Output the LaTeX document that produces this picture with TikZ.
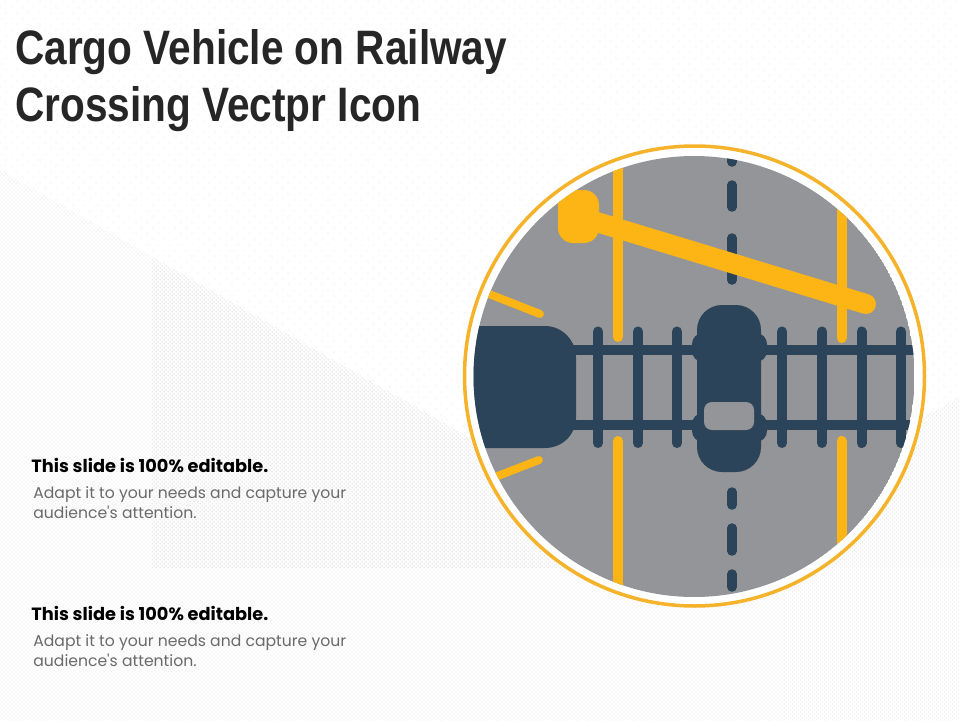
\documentclass[tikz,border=0pt]{standalone}
\usepackage{fontspec}
\setmainfont{Liberation Sans}
\newfontfamily\bodyfont{Poppins}
\usetikzlibrary{patterns.meta}
\definecolor{roadgray}{HTML}{939598}
\definecolor{navy}{HTML}{2B4459}
\definecolor{signyellow}{HTML}{FDB515}
\definecolor{ringyellow}{HTML}{F5B32B}
\definecolor{titlegray}{HTML}{262626}
\definecolor{textgray}{HTML}{6A6A6A}
\tikzset{
  px/.style={line width=#1*0.02cm},
  title/.style={anchor=north west, inner sep=0pt, align=left, xscale=0.84, font=\fontsize{27.5}{32.3}\selectfont\bfseries, text=titlegray},
  head/.style={anchor=west, inner sep=0pt, font=\bodyfont\fontsize{10.1}{11}\selectfont\bfseries, text=black},
  body/.style={anchor=north west, inner sep=0pt, align=left, font=\bodyfont\fontsize{8.9}{11.4}\selectfont, text=textgray},
  rail/.style={draw=navy, px=10},
  tie/.style={draw=navy, px=10, line cap=round},
  lane/.style={draw=signyellow, px=10, line cap=round},
  streak/.style={draw=signyellow, px=8, line cap=round},
  roaddash/.style={draw=navy, px=9.5, line cap=round}
}
\begin{document}
\begin{tikzpicture}[x=0.02cm,y=-0.02cm]
\useasboundingbox (0,0) rectangle (960,720);

\fill[white] (0,0) rectangle (960,720);
\fill[pattern={Dots[distance=0.16cm, radius=0.03cm, angle=45]}, pattern color=black!2]
  (0,0) rectangle (960,720);
\fill[white] (0,170) -- (674,554) -- (960,397) -- (960,720) -- (0,720) -- cycle;
\fill[pattern={Dots[distance=0.0566cm, radius=0.013cm, angle=45]}, pattern color=black!18]
  (0,170) -- (674,554) -- (960,397) -- (960,720) -- (0,720) -- cycle;

\node[title] (t) at (15,29) {Cargo Vehicle on Railway\\Crossing Vectpr Icon};

\node[head] (h1) at (31,465) {This slide is 100\% editable.};
\node[body] (b1) at (33,486) {Adapt it to your needs and capture your\\audience's attention.};
\node[head] (h2) at (31,613) {This slide is 100\% editable.};
\node[body] (b2) at (33,634) {Adapt it to your needs and capture your\\audience's attention.};

\fill[white] (694.5,376) circle (231);
\draw[ringyellow, px=3.5] (694.5,376) circle (230);
\begin{scope}
\clip (694,376.5) circle (220.5);
\fill[roadgray] (694,376.5) circle (220.5);

\draw[lane] (618,160) -- (618,337);
\draw[lane] (618,441) -- (618,600);
\draw[lane] (841.5,200) -- (841.5,338);
\draw[lane] (841.5,441) -- (841.5,560);

\foreach \ya/\yb in {150/162, 185/207, 238/280, 492/505, 528/551, 574/587}
  \draw[roaddash] (732,\ya) -- (732,\yb);

\draw[signyellow, px=20, line cap=round] (590,220) -- (866,304);
\fill[signyellow, rounded corners=0.3cm] (558,190) rectangle (599,243);

\draw[streak] (484,292) -- (540,314);
\draw[streak] (539,460) -- (490,479);

\draw[rail] (560,350) -- (920,350);
\draw[rail] (560,425) -- (920,425);
\foreach \tx in {598,638,677,782,822,861.5,901}
  \draw[tie] (\tx,331.5) -- (\tx,443);

\fill[navy] (470,326) -- (545,326) .. controls (562,326) and (576,340) .. (576,358)
  -- (576,417) .. controls (576,435) and (562,448) .. (545,448) -- (470,448) -- cycle;

\fill[navy, rounded corners=0.22cm] (692,333) rectangle (767,362);
\fill[navy, rounded corners=0.22cm] (692,413) rectangle (767,442);
\fill[navy, rounded corners=0.5cm] (697,305) rectangle (761,472);
\fill[roadgray, rounded corners=0.16cm] (704,402) rectangle (754,430);
\end{scope}

\end{tikzpicture}
\end{document}
